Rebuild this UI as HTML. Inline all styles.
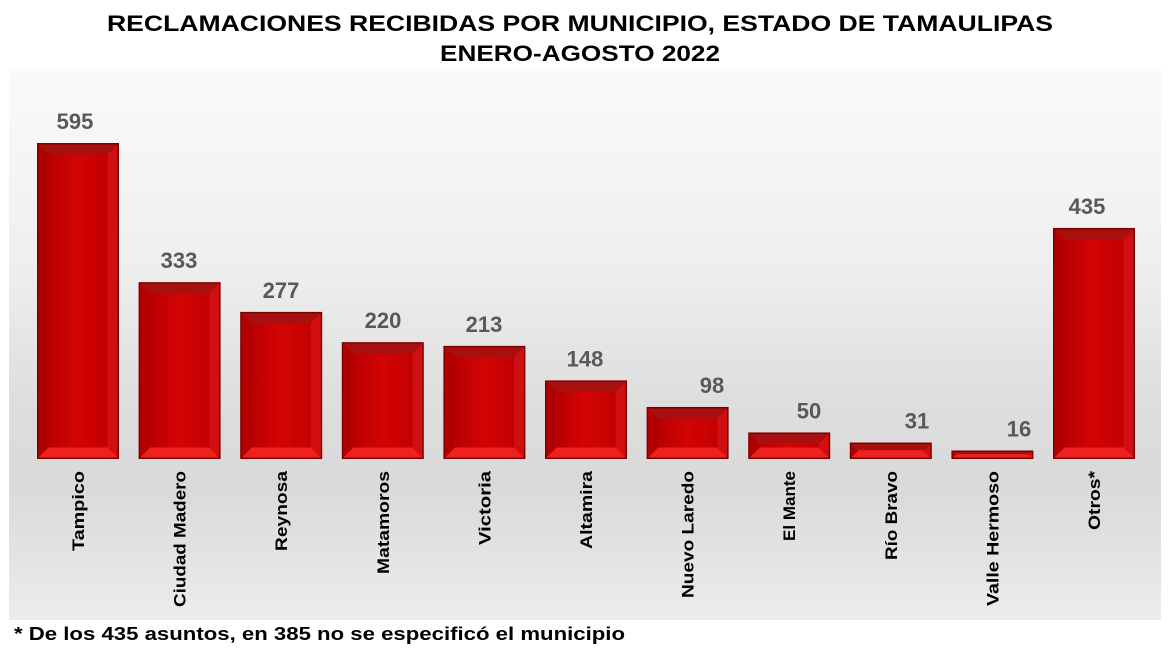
<!DOCTYPE html>
<html><head><meta charset="utf-8"><style>
html,body{margin:0;padding:0;background:#fff;}
svg{display:block;}
text{font-family:"Liberation Sans",Arial,sans-serif;font-weight:bold;}
</style></head><body>
<svg width="1168" height="652" viewBox="0 0 1168 652" xmlns="http://www.w3.org/2000/svg">
<defs>
<linearGradient id="bg" x1="0" y1="0" x2="0" y2="1">
<stop offset="0" stop-color="#fafafa"/>
<stop offset="0.35" stop-color="#efefef"/>
<stop offset="0.6" stop-color="#dedede"/>
<stop offset="0.75" stop-color="#d9d9d9"/>
<stop offset="1" stop-color="#ececec"/>
</linearGradient>
<linearGradient id="face" x1="0" y1="0" x2="1" y2="0">
<stop offset="0" stop-color="#b80000"/>
<stop offset="0.5" stop-color="#d40404"/>
<stop offset="1" stop-color="#c20000"/>
</linearGradient>
</defs>
<text x="580" y="31" font-size="22" text-anchor="middle" textLength="946" lengthAdjust="spacingAndGlyphs" fill="#000">RECLAMACIONES RECIBIDAS POR MUNICIPIO, ESTADO DE TAMAULIPAS</text>
<text x="580" y="61" font-size="22" text-anchor="middle" textLength="280" lengthAdjust="spacingAndGlyphs" fill="#000">ENERO-AGOSTO 2022</text>
<rect x="9" y="68" width="1152" height="552" fill="url(#bg)"/>
<g id="bars"></g>
<text x="14" y="640" font-size="18" textLength="611" lengthAdjust="spacingAndGlyphs" fill="#000">* De los 435 asuntos, en 385 no se especificó el municipio</text>
</svg>
<script>
var data=[["Tampico",595,75,80],["Ciudad Madero",333,179,136],["Reynosa",277,281,80],["Matamoros",220,383,103],["Victoria",213,484,74],["Altamira",148,585,78],["Nuevo Laredo",98,712,127],["El Mante",50,809,70],["Río Bravo",31,917,89],["Valle Hermoso",16,1019,135],["Otros*",435,1087,59]];
var g=document.getElementById('bars'),s="";
var base=459,k=316/595;
data.forEach(function(d,i){
 var cx=78+i*101.6,w=82,x=cx-w/2,h=Math.max(d[1]*k,6),y=base-h;
 s+='<rect x="'+x+'" y="'+y+'" width="'+w+'" height="'+h+'" fill="#7a0000"/>';
 var b=Math.min(10,h/2-1);
 s+='<rect x="'+(x+1.5)+'" y="'+(y+1.5)+'" width="'+(w-3)+'" height="'+(h-3)+'" fill="#c40000"/>';
 s+='<polygon points="'+(x+1.5)+','+(y+1.5)+' '+(x+w-1.5)+','+(y+1.5)+' '+(x+w-1.5-b)+','+(y+1.5+b)+' '+(x+1.5+b)+','+(y+1.5+b)+'" fill="#a81010"/>';
 s+='<polygon points="'+(x+1.5)+','+(y+h-1.5)+' '+(x+w-1.5)+','+(y+h-1.5)+' '+(x+w-1.5-b)+','+(y+h-1.5-b)+' '+(x+1.5+b)+','+(y+h-1.5-b)+'" fill="#f02020"/>';
 s+='<polygon points="'+(x+1.5)+','+(y+1.5)+' '+(x+1.5+b)+','+(y+1.5+b)+' '+(x+1.5+b)+','+(y+h-1.5-b)+' '+(x+1.5)+','+(y+h-1.5)+'" fill="#b00000"/>';
 s+='<polygon points="'+(x+w-1.5)+','+(y+1.5)+' '+(x+w-1.5-b)+','+(y+1.5+b)+' '+(x+w-1.5-b)+','+(y+h-1.5-b)+' '+(x+w-1.5)+','+(y+h-1.5)+'" fill="#d01010"/>';
 s+='<rect x="'+(x+1.5+b)+'" y="'+(y+1.5+b)+'" width="'+Math.max(w-3-2*b,0)+'" height="'+Math.max(h-3-2*b,0)+'" fill="url(#face)"/>';
 s+='<text x="'+d[2]+'" y="'+(y-14)+'" font-size="22" text-anchor="middle" fill="#595959">'+d[1]+'</text>';
 s+='<text transform="translate('+(cx+6)+',471) rotate(-90)" font-size="17" text-anchor="end" textLength="'+d[3]+'" lengthAdjust="spacingAndGlyphs" fill="#000">'+d[0]+'</text>';
});
g.innerHTML=s;
</script>
</body></html>
